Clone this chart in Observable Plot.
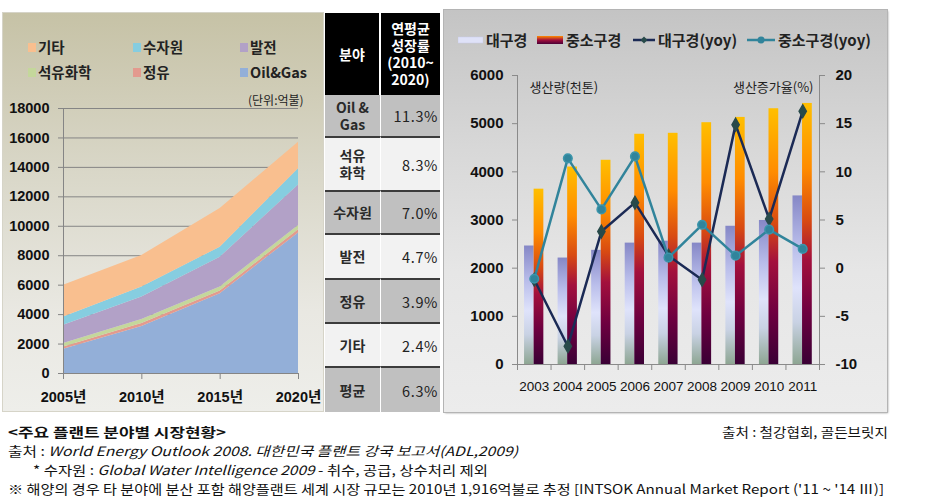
<!DOCTYPE html>
<html><head><meta charset="utf-8">
<script src="https://cdn.jsdelivr.net/npm/d3@7"></script>
<script src="https://cdn.jsdelivr.net/npm/@observablehq/plot@0.6"></script>
<style>
body{margin:0;background:#fff;font-family:"Noto Sans CJK KR","Noto Sans",sans-serif;color:#111;}
#root{position:relative;width:934px;height:501px;overflow:hidden;background:#fff;}
.abs{position:absolute;}
#left{left:3px;top:13px;width:320px;height:398px;background:linear-gradient(#c6c2a6,#d9d7c8 40%,#e9e8e2 75%,#eeeeea);outline:1px solid #d6d4c8;}
#right{left:444px;top:10px;width:443px;height:402px;background:linear-gradient(#c4c4c4,#d8d8d8 35%,#e6e6e6 65%,#ececec);outline:1px solid #b4b4b4;box-shadow:1px 1px 2px #999;}
.leg{position:absolute;font-weight:bold;font-size:14.5px;color:#222;line-height:18px;white-space:nowrap;}
.sw{position:absolute;width:8px;height:9px;}
#table{left:325px;top:13px;width:115px;height:399px;display:grid;grid-template-columns:56px 59px;grid-template-rows:82px 41px 54px 43px 45px 44px 44px 46px;}
.cell{display:flex;align-items:center;box-sizing:border-box;font-size:14px;color:#222;white-space:pre-line;line-height:17px;}
.hd{background:#000;color:#fff;font-weight:bold;justify-content:center;text-align:center;}
.lab{justify-content:center;text-align:center;border-top:2px solid #3c3c3c;border-right:1px solid #fff;font-weight:bold;color:#2a2a2a;}
.val{justify-content:flex-end;padding-right:2px;border-top:2px solid #3c3c3c;letter-spacing:0.6px;font-size:14.5px;}
.cap{position:absolute;font-size:13px;color:#111;white-space:nowrap;line-height:16px;transform-origin:0 0;}
.rleg{position:absolute;font-weight:bold;font-size:15px;color:#222;white-space:nowrap;line-height:18px;}
</style>
</head><body>
<div id="root">
  <div id="left" class="abs"></div>
  <div id="table" class="abs"></div>
  <div id="right" class="abs"></div>
</div>
<script>
// ---------- Left chart data (단위: 억불) ----------
const areaSeries = ["Oil&Gas","정유","석유화학","발전","수자원","기타"];
const areaYears = [2005, 2010, 2015, 2020];
const areaYearLabels = ["2005년","2010년","2015년","2020년"];
const oilGas    = [1650, 3200, 5420, 9550];
const refining  = [150, 190, 180, 220];
const petrochem = [230, 270, 270, 290];
const power     = [1240, 1530, 2030, 2750];
const water     = [570, 680, 680, 1100];
const others    = [2150, 2150, 2620, 1800];
const areaTicks = [0, 2000, 4000, 6000, 8000, 10000, 12000, 14000, 16000, 18000];
const legendOrder = ["기타","수자원","발전","석유화학","정유","Oil&Gas"];
const unitLabel = "(단위:억불)";

// ---------- Table data ----------
const tableHeader = ["분야", "연평균\n성장률\n(2010~\n2020)"];
const tableFields = ["Oil &\nGas", "석유\n화학", "수자원", "발전", "정유", "기타", "평균"];
const tableGrowth = ["11.3%", "8.3%", "7.0%", "4.7%", "3.9%", "2.4%", "6.3%"];

// ---------- Right chart data ----------
const barYears  = [2003, 2004, 2005, 2006, 2007, 2008, 2009, 2010, 2011];
const largeProd = [2460, 2210, 2370, 2520, 2560, 2520, 2870, 2990, 3500];
const smallProd = [3640, 4100, 4240, 4780, 4800, 5020, 5130, 5310, 5420];
const largeYoy  = [-1.2, -8.1, 3.8, 6.8, 1.3, -1.2, 14.9, 5.1, 16.3];
const smallYoy  = [-1.1, 11.4, 6.1, 11.6, 1.1, 4.5, 1.3, 4.0, 2.0];
const prodTicks = [0, 1000, 2000, 3000, 4000, 5000, 6000];
const yoyTicks  = [-10, -5, 0, 5, 10, 15, 20];
const rightLegend = ["대구경", "중소구경", "대구경(yoy)", "중소구경(yoy)"];
const prodLabel = "생산량(천톤)";
const yoyLabel = "생산증가율(%)";

// ---------- Captions ----------
const capTitle = "<주요 플랜트 분야별 시장현황>";
const capSourceRight = "출처 : 철강협회, 골든브릿지";

// ===== Left chart =====
const areaColors = {"Oil&Gas":"#93afd8","정유":"#e39a8e","석유화학":"#c4d79b","발전":"#b2a1c7","수자원":"#86cde0","기타":"#f9bf8f"};
const seriesValues = [oilGas, refining, petrochem, power, water, others];
const areaData = [];
areaSeries.forEach((s, si) => areaYears.forEach((y, i) => areaData.push({series: s, year: y, value: seriesValues[si][i]})));

const leftPlot = Plot.plot({
  width: 320, height: 398,
  marginLeft: 60, marginRight: 25, marginTop: 95, marginBottom: 38,
  style: {background: "transparent", overflow: "visible", color: "#111", fontFamily: "'Liberation Sans','Noto Sans CJK KR',sans-serif"},
  x: {domain: [2005, 2020], label: null},
  y: {domain: [0, 18000], label: null},
  color: {domain: areaSeries, range: areaSeries.map(s => areaColors[s])},
  marks: [
    Plot.gridY({ticks: areaTicks, stroke: "#858585", strokeOpacity: 1}),
    Plot.areaY(areaData, {x: "year", y: "value", fill: "series", z: "series", order: areaSeries}),
    Plot.ruleX([2005], {stroke: "#858585"}),
    Plot.ruleY([0], {stroke: "#858585"}),
    Plot.axisY({ticks: areaTicks, tickSize: 5, tickPadding: 9, fontSize: 14.5, fontWeight: "bold", stroke: "#858585", label: null, tickFormat: d => String(d)}),
    Plot.axisX({ticks: areaYears, tickSize: 6, tickPadding: 12, fontSize: 14.5, fontWeight: "bold", stroke: "#858585", label: null,
      tickFormat: d => areaYearLabels[areaYears.indexOf(d)]})
  ]
});
leftPlot.style.position = "absolute"; leftPlot.style.left = "0px"; leftPlot.style.top = "0px";
const left = document.getElementById("left");
left.appendChild(leftPlot);

// left legend
const legPos = [[25,34],[130,34],[237,34],[25,59],[130,59],[237,59]];
legendOrder.forEach((s, i) => {
  const [lx, ly] = legPos[i];
  const sw = document.createElement("div");
  sw.className = "sw"; sw.style.left = lx + "px"; sw.style.top = (ly - 4) + "px"; sw.style.background = areaColors[s];
  left.appendChild(sw);
  const t = document.createElement("div");
  t.className = "leg"; t.textContent = s; t.style.left = (lx + 10) + "px"; t.style.top = (ly - 9) + "px";
  left.appendChild(t);
});
const unit = document.createElement("div");
unit.className = "leg"; unit.style.fontWeight = "normal"; unit.style.fontSize = "12px";
unit.textContent = unitLabel; unit.style.left = "245px"; unit.style.top = "78px";
left.appendChild(unit);

// ===== Table =====
const table = document.getElementById("table");
tableHeader.forEach((h, i) => {
  const c = document.createElement("div"); c.className = "cell hd"; c.textContent = h;
  if (i === 0) c.style.borderRight = "2px solid #fff";
  table.appendChild(c);
});
tableFields.forEach((f, i) => {
  const bg = i % 2 === 0 ? "#c0c0c0" : "#f2f2f2";
  const a = document.createElement("div"); a.className = "cell lab"; a.textContent = f; a.style.background = bg;
  const b = document.createElement("div"); b.className = "cell val"; b.textContent = tableGrowth[i]; b.style.background = bg;
  if (i === 0) { a.style.borderTop = "none"; b.style.borderTop = "none"; }
  table.appendChild(a); table.appendChild(b);
});

// ===== Right chart =====
const rows = barYears.map((year, i) => ({year, large: largeProd[i], small: smallProd[i], largeYoy: largeYoy[i], smallYoy: smallYoy[i]}));
const yoyToProd = v => (v + 10) * 200;   // right axis [-10,20] onto left axis [0,6000]
const bounds = barYears.map(y => y - 0.5).concat([barYears[barYears.length - 1] + 0.5]);

function gradients() {
  const defs = d3.create("svg:defs");
  const g1 = defs.append("linearGradient").attr("id", "gLarge").attr("x1", 0).attr("y1", 0).attr("x2", 0).attr("y2", 1);
  [[0,"#8587c6"],[0.3,"#b9bdea"],[0.55,"#dfe3fb"],[0.75,"#c9d2e4"],[1,"#8ea693"]].forEach(([o,c]) => g1.append("stop").attr("offset", o).attr("stop-color", c));
  const g2 = defs.append("linearGradient").attr("id", "gSmall").attr("x1", 0).attr("y1", 0).attr("x2", 0).attr("y2", 1);
  [[0,"#ffbf00"],[0.25,"#ff8c00"],[0.45,"#d84a12"],[0.6,"#a3103d"],[0.8,"#6e0040"],[1,"#3a0035"]].forEach(([o,c]) => g2.append("stop").attr("offset", o).attr("stop-color", c));
  return defs.node();
}

const rightPlot = Plot.plot({
  width: 443, height: 402,
  marginLeft: 73, marginRight: 68, marginTop: 65, marginBottom: 48,
  style: {background: "transparent", overflow: "visible", color: "#111", fontFamily: "'Liberation Sans','Noto Sans CJK KR',sans-serif"},
  x: {domain: [2002.5, 2011.5], label: null},
  y: {domain: [0, 6000], label: null},
  marks: [
    gradients,
    Plot.rectY(rows, {x1: d => d.year - 0.29, x2: d => d.year - 0.005, y1: 0, y2: "large", fill: "url(#gLarge)"}),
    Plot.rectY(rows, {x1: d => d.year - 0.005, x2: d => d.year + 0.285, y1: 0, y2: "small", fill: "url(#gSmall)"}),
    Plot.ruleX([2002.5, 2011.5], {stroke: "#8a8a8a"}),
    Plot.ruleY([0], {stroke: "#8a8a8a"}),
    Plot.line(rows, {x: "year", y: d => yoyToProd(d.largeYoy), stroke: "#1b2a55", strokeWidth: 2.5}),
    Plot.dot(rows, {x: "year", y: d => yoyToProd(d.largeYoy), symbol: "diamond", r: 3.8, fill: "#284a4a", stroke: "#284a4a"}),
    Plot.line(rows, {x: "year", y: d => yoyToProd(d.smallYoy), stroke: "#31849b", strokeWidth: 2.5}),
    Plot.dot(rows, {x: "year", y: d => yoyToProd(d.smallYoy), r: 4.3, fill: "#31849b", stroke: "#3a95ab"}),
    Plot.axisY({ticks: prodTicks, tickSize: 5, tickPadding: 9, fontSize: 15, fontWeight: "bold", stroke: "#8a8a8a", label: null, tickFormat: d => String(d)}),
    Plot.axisY({anchor: "right", ticks: yoyTicks.map(yoyToProd), tickSize: 5, tickPadding: 11, fontSize: 15, fontWeight: "bold", stroke: "#8a8a8a", label: null,
      tickFormat: d => String(yoyTicks[yoyTicks.map(yoyToProd).indexOf(d)])}),
    Plot.axisX({ticks: bounds, tickSize: 6, stroke: "#8a8a8a", tickFormat: () => "", label: null}),
    Plot.axisX({ticks: barYears, tickSize: 0, tickPadding: 17, fontSize: 13.5, fontFamily: "'Liberation Sans',sans-serif", label: null, tickFormat: d => String(d)}),
    Plot.text([prodLabel], {frameAnchor: "top-left", dx: 12, dy: 7, textAnchor: "start", fontSize: 13, fill: "#222", fontFamily: "'Noto Sans CJK KR',sans-serif"}),
    Plot.text([yoyLabel], {frameAnchor: "top-right", dx: -6, dy: 7, textAnchor: "end", fontSize: 13, fill: "#222", fontFamily: "'Noto Sans CJK KR',sans-serif"})
  ]
});
rightPlot.style.position = "absolute"; rightPlot.style.left = "0px"; rightPlot.style.top = "0px";
const right = document.getElementById("right");
right.appendChild(rightPlot);

// right legend (HTML)
const rl = [
  {x: 14, w: 25, type: "large"},
  {x: 93, w: 26, type: "small"},
  {x: 189, w: 22, type: "lyoy"},
  {x: 303, w: 28, type: "syoy"}
];
rl.forEach((it, i) => {
  const sw = document.createElementNS("http://www.w3.org/2000/svg", "svg");
  sw.setAttribute("width", it.w); sw.setAttribute("height", 12);
  sw.style.position = "absolute"; sw.style.left = it.x + "px"; sw.style.top = "24px";
  if (it.type === "large") sw.innerHTML = `<rect x="0" y="3" width="${it.w}" height="6" fill="#dfe2f8" stroke="#c8cbea" stroke-width="0.5"/>`;
  if (it.type === "small") sw.innerHTML = `<defs><linearGradient id="lgS" x1="0" y1="0" x2="0" y2="1"><stop offset="0" stop-color="#ff8c00"/><stop offset="0.5" stop-color="#a3103d"/><stop offset="1" stop-color="#4a0038"/></linearGradient></defs><rect x="0" y="2" width="${it.w}" height="8" fill="url(#lgS)"/>`;
  if (it.type === "lyoy") sw.innerHTML = `<line x1="0" y1="6" x2="${it.w}" y2="6" stroke="#1b2a55" stroke-width="2.5"/><path d="M${it.w/2},2.5L${it.w/2+3.5},6L${it.w/2},9.5L${it.w/2-3.5},6Z" fill="#284a4a"/>`;
  if (it.type === "syoy") sw.innerHTML = `<line x1="0" y1="6" x2="${it.w}" y2="6" stroke="#31849b" stroke-width="2.5"/><circle cx="${it.w/2}" cy="6" r="3.5" fill="#31849b"/>`;
  right.appendChild(sw);
  const t = document.createElement("div");
  t.className = "rleg"; t.textContent = rightLegend[i];
  t.style.left = (it.x + it.w + 3) + "px"; t.style.top = "21px";
  right.appendChild(t);
});

// ===== Captions =====
const root = document.getElementById("root");
function cap(html, x, y, targetWidth, bold) {
  const d = document.createElement("div"); d.className = "cap"; d.innerHTML = html;
  if (bold) d.style.fontWeight = "bold";
  d.style.left = x + "px"; d.style.top = y + "px"; root.appendChild(d);
  const w = d.getBoundingClientRect().width;
  if (w > 0) d.style.transform = `scaleX(${targetWidth / w})`;
  return d;
}
const esc = s => s.replace(/&/g, "&amp;").replace(/</g, "&lt;").replace(/>/g, "&gt;");
cap(esc(capTitle), 8, 424, 218, true);
cap(esc(capSourceRight), 722, 424, 166);
cap("출처 : <i>World Energy Outlook 2008. 대한민국 플랜트 강국 보고서(ADL,2009)</i>", 8, 443, 510);
cap("* 수자원 : <i>Global Water Intelligence 2009</i> - 취수, 공급, 상수처리 제외", 33, 462, 455);
cap("※ 해양의 경우 타 분야에 분산 포함 해양플랜트 세계 시장 규모는 2010년 1,916억불로 추정 [INTSOK Annual Market Report ('11 ~ '14 Ⅲ)]", 8, 481, 876);
</script>
</body></html>
